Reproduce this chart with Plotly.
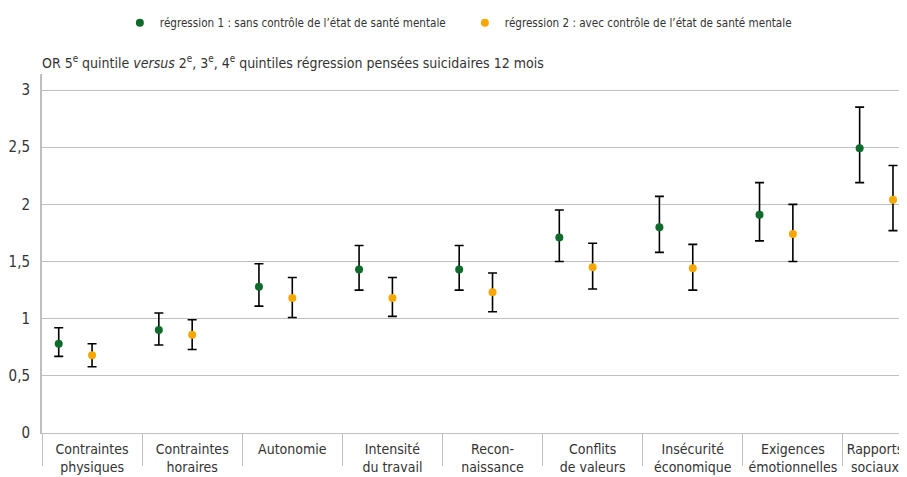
import plotly.graph_objects as go

# categories (x axis)
categories = [
    "Contraintes<br>physiques", "Contraintes<br>horaires", "Autonomie",
    "Intensité<br>du travail", "Recon-<br>naissance", "Conflits<br>de valeurs",
    "Insécurité<br>économique", "Exigences<br>émotionnelles", "Rapports<br>sociaux",
]

# régression 1 : sans contrôle de l'état de santé mentale
or_r1 = [0.78, 0.90, 1.28, 1.43, 1.43, 1.71, 1.80, 1.91, 2.49]
lo_r1 = [0.67, 0.77, 1.11, 1.25, 1.25, 1.50, 1.58, 1.68, 2.19]
hi_r1 = [0.92, 1.05, 1.48, 1.64, 1.64, 1.95, 2.07, 2.19, 2.85]

# régression 2 : avec contrôle de l'état de santé mentale
or_r2 = [0.68, 0.86, 1.18, 1.18, 1.23, 1.45, 1.44, 1.74, 2.04]
lo_r2 = [0.58, 0.73, 1.01, 1.02, 1.06, 1.26, 1.25, 1.50, 1.77]
hi_r2 = [0.78, 0.99, 1.36, 1.36, 1.40, 1.66, 1.65, 2.00, 2.34]

name_r1 = "régression 1 : sans contrôle de l’état de santé mentale"
name_r2 = "régression 2 : avec contrôle de l’état de santé mentale"
title = ("OR 5<sup>e</sup> quintile <i>versus</i> 2<sup>e</sup>, 3<sup>e</sup>, "
         "4<sup>e</sup> quintiles régression pensées suicidaires 12 mois")

FONT = "DejaVu Sans Condensed, Liberation Sans Narrow, sans-serif"
GREEN = "#0f6b2c"
ORANGE = "#f7a800"
GRID = "#bfbfbf"
TXT = "#333333"

n = len(categories)
xmax = 8.64
x1 = [i + 0.167 for i in range(n)]
x2 = [i + 0.50 for i in range(n)]
# label centred on the visible part of each category
label_pos = [(i + min(i + 1, xmax)) / 2 for i in range(n)]

fig = go.Figure()
for xs, ys, lo, hi, col, nm in [
    (x1, or_r1, lo_r1, hi_r1, GREEN, name_r1),
    (x2, or_r2, lo_r2, hi_r2, ORANGE, name_r2),
]:
    fig.add_trace(go.Scatter(
        x=xs, y=ys, mode="markers", name=nm, cliponaxis=False,
        marker=dict(color=col, size=8, symbol="circle"),
        error_y=dict(
            type="data", symmetric=False,
            array=[h - v for h, v in zip(hi, ys)],
            arrayminus=[v - l for v, l in zip(ys, lo)],
            color="black", thickness=1.6, width=4.5,
        ),
    ))

# the page body adds an 8px offset, so the figure is 8px smaller than the window
fig.update_layout(
    width=899, height=469,
    margin=dict(l=34, r=0, t=61, b=44, pad=0),
    paper_bgcolor="white", plot_bgcolor="white",
    separators=", ",
    font=dict(family=FONT, size=14, color=TXT),
    showlegend=True,
    legend=dict(
        orientation="h", x=0.09, xanchor="left", y=1.143, yanchor="middle",
        yref="paper", font=dict(size=11.6, color=TXT),
        itemwidth=30, entrywidth=300, entrywidthmode="pixels",
        bgcolor="rgba(0,0,0,0)", tracegroupgap=0,
    ),
    xaxis=dict(
        range=[0, xmax], showgrid=False, zeroline=False, automargin=False,
        showline=True, linecolor=GRID, linewidth=1,
        tickvals=label_pos, ticktext=categories, ticks="", ticklen=0,
        tickfont=dict(size=14, color=TXT), ticklabelstandoff=3,
        minor=dict(tickvals=list(range(n)), ticks="outside", ticklen=32,
                   tickcolor=GRID, tickwidth=1, showgrid=False),
    ),
    yaxis=dict(
        range=[0, 3.14], dtick=0.5, tick0=0, showgrid=True, gridcolor=GRID,
        gridwidth=1, zeroline=False, showline=True, linecolor=GRID,
        linewidth=2, ticks="", tickfont=dict(size=15, color=TXT),
        ticklabelstandoff=7, automargin=False,
    ),
    annotations=[dict(
        text=title, xref="paper", yref="paper", x=-0.002, y=1.0,
        xanchor="left", yanchor="bottom", yshift=1, showarrow=False,
        font=dict(size=14, color=TXT),
    )],
)

fig.write_html("out.html")
